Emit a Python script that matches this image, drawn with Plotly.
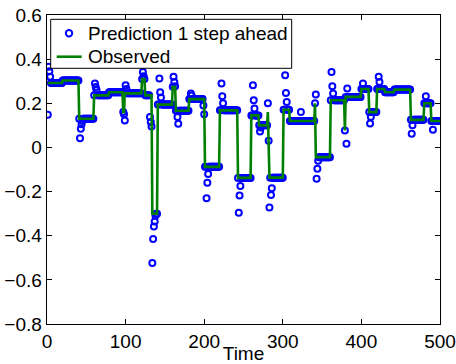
import plotly.graph_objects as go

# Observed series: piecewise-constant levels (segment start time, level)
seg_start = [1, 20, 41, 60, 79, 97, 99, 121, 125, 134, 141, 160, 164, 181, 201,
             220, 243, 260, 270, 281, 282, 283, 301, 309, 341, 342, 361, 379, 380,
             400, 410, 420, 430, 442, 463, 480, 489]
seg_level = [0.292, 0.303, 0.13, 0.236, 0.25, 0.16, 0.245, 0.31, 0.236, -0.30,
             0.194, 0.275, 0.166, 0.219, -0.088, 0.168, -0.138, 0.145, 0.10, 0.16,
             0.047, -0.137, 0.171, 0.12, 0.20, -0.044, 0.214, 0.077, 0.229, 0.265,
             0.16, 0.265, 0.25, 0.262, 0.125, 0.20, 0.12]
t_end = 500

# Prediction points that differ from the observed level (time, value)
pred_out_t = [1, 2, 3, 4, 42, 43, 44, 45, 61, 62, 63, 98, 99, 100, 101, 122, 123,
              131, 132, 133, 134, 135, 136, 137, 138, 143, 144, 145, 161, 162, 163,
              166, 167, 183, 184, 199, 200, 203, 204, 205, 222, 223, 224, 244, 245,
              246, 262, 263, 264, 271, 272, 281, 282, 283, 285, 286, 303, 304, 305,
              323, 342, 343, 344, 345, 362, 363, 364, 381, 382, 402, 411, 412, 422,
              423, 464, 465, 482, 491]
pred_out_v = [0.148, 0.365, 0.345, 0.32, 0.042, 0.085, 0.105, 0.12, 0.29, 0.274,
              0.26, 0.15, 0.122, 0.282, 0.265, 0.342, 0.323, 0.138, 0.115, 0.095,
              -0.524, -0.415, -0.358, -0.336, -0.31, 0.312, 0.25, 0.226, 0.32, 0.297,
              0.277, 0.138, 0.107, 0.244, 0.235, 0.19, 0.15, -0.23, -0.16, -0.12,
              0.29, 0.232, 0.2, -0.296, -0.218, -0.175, 0.282, 0.214, 0.176, 0.072,
              0.09, 0.2, 0.03, -0.272, -0.215, -0.185, 0.327, 0.247, 0.206, 0.16,
              0.24, -0.142, -0.097, -0.06, 0.342, 0.277, 0.244, 0.017, 0.267, 0.29,
              0.108, 0.138, 0.32, 0.297, 0.062, 0.1, 0.232, 0.08]

series_names = ["Prediction 1 step ahead", "Observed"]
x_ticks = [0, 100, 200, 300, 400, 500]
y_ticks = [-0.8, -0.6, -0.4, -0.2, 0, 0.2, 0.4, 0.6]
y_tick_text = ["\u22120.8", "\u22120.6", "\u22120.4", "\u22120.2", "0", "0.2", "0.4", "0.6"]

# expand segments to per-time observed values
times = list(range(1, t_end + 1))
observed = []
bounds = seg_start[1:] + [t_end + 1]
for s, e, lv in zip(seg_start, bounds, seg_level):
    observed.extend([lv] * (e - s))

predicted = list(observed)
for t, v in zip(pred_out_t, pred_out_v):
    predicted[t - 1] = v

FONT = "Liberation Sans, Arial, Helvetica, sans-serif"
BLUE = "#0000ff"
GREEN = "#008000"

fig = go.Figure()
fig.add_trace(go.Scatter(
    x=times, y=predicted, mode="markers", name=series_names[0],
    marker=dict(symbol="circle-open", size=6, color=BLUE,
                line=dict(width=2, color=BLUE)),
))
fig.add_trace(go.Scatter(
    x=times, y=observed, mode="lines", name=series_names[1],
    line=dict(color=GREEN, width=2.6),
))

axis_common = dict(
    showline=True, linecolor="black", linewidth=1.4, mirror="ticks",
    ticks="inside", ticklen=5, tickcolor="black", tickwidth=1,
    showgrid=False, zeroline=False, automargin=False,
    tickfont=dict(family=FONT, size=19, color="black"),
)

# manual MATLAB-style legend (paper coordinates)
shapes = [
    dict(type="rect", xref="paper", yref="paper", x0=0.0094, x1=0.6226,
         y0=0.8275, y1=0.986, line=dict(color="black", width=1),
         fillcolor="white", layer="above"),
    dict(type="circle", xref="paper", yref="paper", xsizemode="pixel",
         ysizemode="pixel", xanchor=0.056, yanchor=0.9408,
         x0=-3.2, x1=3.2, y0=-3.2, y1=3.2,
         line=dict(color=BLUE, width=2), layer="above"),
    dict(type="line", xref="paper", yref="paper", x0=0.0247, x1=0.0883,
         y0=0.865, y1=0.865, line=dict(color=GREEN, width=2.6), layer="above"),
]
annotations = [
    dict(text=series_names[0], xref="paper", yref="paper", x=0.098, y=0.9408,
         xanchor="left", yanchor="middle", showarrow=False,
         font=dict(family=FONT, size=19, color="black")),
    dict(text=series_names[1], xref="paper", yref="paper", x=0.098, y=0.865,
         xanchor="left", yanchor="middle", showarrow=False,
         font=dict(family=FONT, size=19, color="black")),
]

fig.update_layout(
    width=456, height=364,
    margin=dict(l=47, r=16, t=15, b=40),
    paper_bgcolor="white", plot_bgcolor="white",
    font=dict(family=FONT, size=19, color="black"),
    xaxis=dict(range=[0, 500], tickvals=x_ticks, **axis_common,
               title=dict(text="Time", standoff=2,
                          font=dict(family=FONT, size=19, color="black"))),
    yaxis=dict(range=[-0.8, 0.6], tickvals=y_ticks, ticktext=y_tick_text,
               **axis_common),
    showlegend=False,
    shapes=shapes,
    annotations=annotations,
)

fig.write_html("out.html",
               config={"displayModeBar": False, "staticPlot": True},
               post_script="document.body.style.margin='0px';"
                           "document.body.style.overflow='hidden';")
